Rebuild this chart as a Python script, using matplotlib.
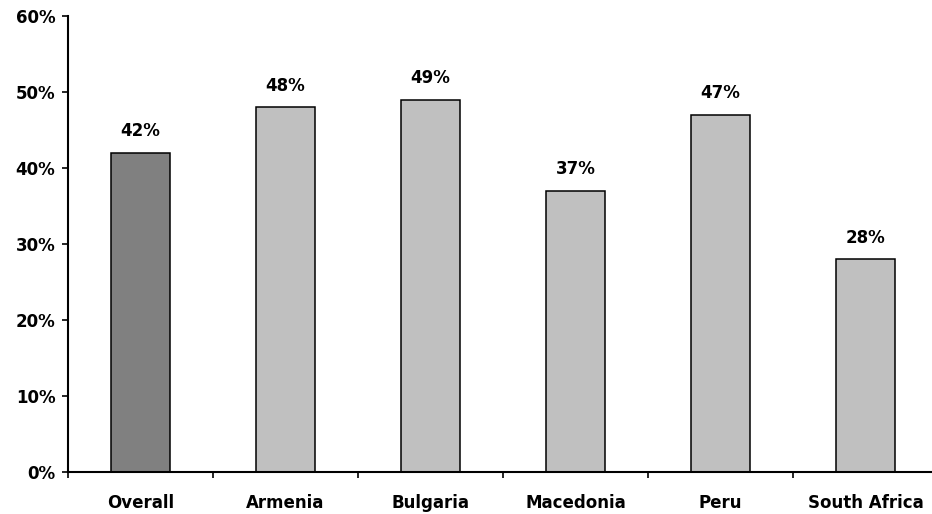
import matplotlib.pyplot as plt
from matplotlib.ticker import FixedLocator, FuncFormatter

# values
categories = ["Overall", "Armenia", "Bulgaria", "Macedonia", "Peru", "South Africa"]
values = [42, 48, 49, 37, 47, 28]
bar_colors = ["#808080", "#C0C0C0", "#C0C0C0", "#C0C0C0", "#C0C0C0", "#C0C0C0"]

plt.rcParams["font.family"] = ["DejaVu Sans"]
plt.rcParams["font.weight"] = "bold"
FS = 12

fig = plt.figure(figsize=(9.32, 5.14), dpi=100)
ax = fig.add_axes([68 / 932, 1 - 472 / 514, 870 / 932, 456 / 514])

x = list(range(len(categories)))
bars = ax.bar(x, values, width=0.41, color=bar_colors, edgecolor="black", linewidth=1.1)

for xi, v in zip(x, values):
    ax.annotate(f"{v}%", (xi, v), xytext=(0, 9), textcoords="offset points",
                ha="center", va="bottom", fontsize=FS, fontweight="bold")

ax.set_xlim(-0.5, len(categories) - 0.5)
ax.set_ylim(0, 60)
ax.set_yticks(range(0, 61, 10))
ax.yaxis.set_major_formatter(FuncFormatter(lambda v, p: f"{int(v)}%"))

# boundary ticks on x, labels centred under the bars
ax.xaxis.set_major_locator(FixedLocator([i - 0.5 for i in range(len(categories) + 1)]))
ax.xaxis.set_major_formatter(FuncFormatter(lambda v, p: ""))
ax.xaxis.set_minor_locator(FixedLocator(x))
ax.set_xticklabels(categories, minor=True)

ax.tick_params(axis="x", which="major", length=4.5, width=1.2, direction="out")
ax.tick_params(axis="x", which="minor", length=0, pad=16, labelsize=FS)
ax.tick_params(axis="y", length=4, width=1.2, pad=5, labelsize=FS)

for side in ["top", "right"]:
    ax.spines[side].set_visible(False)
for side in ["left", "bottom"]:
    ax.spines[side].set_linewidth(1.5)

fig.savefig("out.png", dpi=100)
